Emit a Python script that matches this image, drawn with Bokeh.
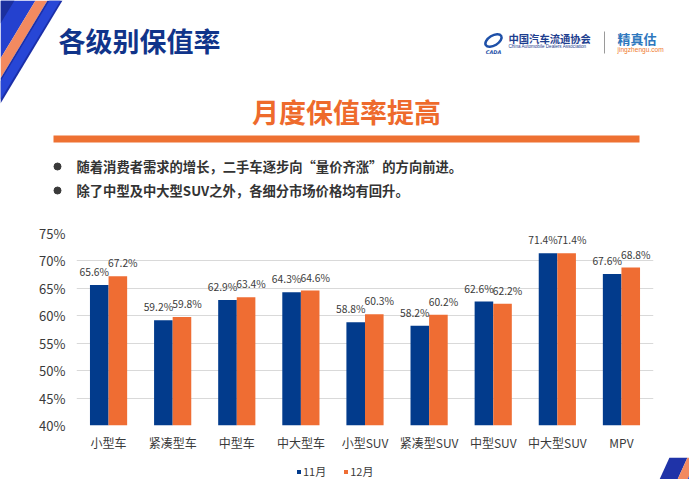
from bokeh.plotting import figure
from bokeh.models import Range1d, FactorRange, Legend, LegendItem, ColumnDataSource
from bokeh.transform import dodge
from bokeh.core.properties import value
from bokeh.embed import file_html
from bokeh.resources import INLINE

# ---------------- data ----------------
categories = ["小型车", "紧凑型车", "中型车", "中大型车", "小型SUV", "紧凑型SUV", "中型SUV", "中大型SUV", "MPV"]
nov_values = [65.6, 59.2, 62.9, 64.3, 58.8, 58.2, 62.6, 71.4, 67.6]
dec_values = [67.2, 59.8, 63.4, 64.6, 60.3, 60.2, 62.2, 71.4, 68.8]
series_names = ["11月", "12月"]
y_ticks = [40, 45, 50, 55, 60, 65, 70, 75]
y_min, y_max = 40, 75

title_text = "各级别保值率"
subtitle_text = "月度保值率提高"
bullet_texts = [
    "随着消费者需求的增长，二手车逐步向“量价齐涨”的方向前进。",
    "除了中型及中大型SUV之外，各细分市场价格均有回升。",
]
org_name_cn = "中国汽车流通协会"
org_name_en = "China Automobile Dealers Association"
brand_cn = "精真估"
brand_url = "jingzhengu.com"

FONT = value("Noto Sans CJK SC")
BLUE = "#023B8C"
ORANGE = "#EF6D33"

W = 689
H1 = 214   # header
H2 = 243   # chart
H3 = 22    # legend strip


def bare(fig):
    fig.grid.visible = False
    fig.outline_line_color = None
    return fig


# ---------------- header (page pixel coordinates) ----------------
h = bare(figure(width=W, height=H1, x_range=Range1d(0, W), y_range=Range1d(H1, 0),
                output_backend="svg", toolbar_location=None, min_border=0,
                x_axis_type=None, y_axis_type=None))

# decorative corner stripes
h.patch(x=[0, 35, 0], y=[0, 0, 58], color="#2441CF", line_width=0)
h.patch(x=[0, 14, 0], y=[0, 0, 23], color="#1B2F9E", line_width=0)
h.patch(x=[35, 47, 0, 0], y=[0, 0, 78, 58], color="#F28A60", line_width=0)
h.patch(x=[47, 62, 0, 0], y=[0, 0, 103, 78], color="#1B2FA8", line_width=0)
h.patch(x=[49, 60, 0, 0], y=[0, 0, 99, 81], color="#2746D6", line_width=0)

h.text(x=[58], y=[40], text=[title_text], text_font=FONT, text_font_size="27px",
       text_font_style="bold", text_color="#10348A", text_baseline="middle", text_align="left")

# logo
h.ellipse(x=[493], y=[40], width=18, height=10, angle=0.55, fill_color=None,
          line_color="#1E50A8", line_width=2.5)
h.text(x=[493], y=[51], text=["CADA"], text_font=value("DejaVu Sans"), text_font_size="5px",
       text_font_style="bold italic", text_color="#1E50A8", text_baseline="middle", text_align="center")
h.text(x=[508], y=[38], text=[org_name_cn], text_font=FONT, text_font_size="10.3px",
       text_font_style="bold", text_color="#1D3E8F", text_baseline="middle", text_align="left")
h.text(x=[508], y=[46], text=[org_name_en], text_font=value("Liberation Sans"), text_font_size="4.6px",
       text_color="#1D3E8F", text_baseline="middle", text_align="left")
h.segment(x0=[604], y0=[31], x1=[604], y1=[53], line_color="#9A9A9A", line_width=1)
h.text(x=[617], y=[38], text=[brand_cn], text_font=FONT, text_font_size="13px",
       text_font_style="bold", text_color="#2F78BE", text_baseline="middle", text_align="left")
h.text(x=[617], y=[48.5], text=[brand_url], text_font=value("Liberation Sans"), text_font_size="6.6px",
       text_color="#EF7A2E", text_baseline="middle", text_align="left")

# subtitle and rule
h.text(x=[346], y=[111], text=[subtitle_text], text_font=FONT, text_font_size="27px",
       text_font_style="bold", text_color="#EE6A2C", text_baseline="middle", text_align="center")
h.quad(left=[53], right=[639], top=[135], bottom=[142], color="#EE7132", line_width=0)

# bullets
bullet_y = [166, 190]
h.scatter(x=[57] * len(bullet_y), y=bullet_y, marker="circle", size=7, color="#3A3A3A")
h.text(x=[76] * len(bullet_y), y=bullet_y, text=bullet_texts, text_font=FONT, text_font_size="13.3px",
       text_font_style="bold", text_color="#333333", text_baseline="middle", text_align="left")

# ---------------- chart ----------------
top_border = 233 - H1
bottom_border = H2 - top_border - (425 - 233)
p = figure(width=W, height=H2, x_range=FactorRange(*categories), y_range=Range1d(y_min, y_max),
           output_backend="svg", toolbar_location=None,
           min_border_left=76, min_border_right=W - 653, min_border_top=top_border,
           min_border_bottom=bottom_border)
p.outline_line_color = None
p.xgrid.visible = False
p.ygrid.grid_line_color = "#D9D9D9"
p.ygrid.grid_line_width = 1

src = ColumnDataSource(dict(
    cat=categories, nov=nov_values, dec=dec_values,
    nov_lbl=[f"{v:.1f}%" for v in nov_values],
    dec_lbl=[f"{v:.1f}%" for v in dec_values],
))
off = 0.145
bw = 0.29
p.vbar(x=dodge("cat", -off, range=p.x_range), top="nov", bottom=y_min, width=bw,
       source=src, fill_color=BLUE, line_color=None)
p.vbar(x=dodge("cat", off, range=p.x_range), top="dec", bottom=y_min, width=bw,
       source=src, fill_color=ORANGE, line_color=None)
for col, lbl, sign in (("nov", "nov_lbl", -1), ("dec", "dec_lbl", 1)):
    p.text(x=dodge("cat", sign * off, range=p.x_range), y=col, text=lbl, source=src,
           x_offset=sign * 5, y_offset=-6, text_baseline="bottom", text_align="center",
           text_font=FONT, text_font_size="10.3px", text_color="#3A3A3A")

p.yaxis.ticker = y_ticks
p.yaxis.major_label_overrides = {t: f"{t}%" for t in y_ticks}
for ax in (p.xaxis[0], p.yaxis[0]):
    ax.axis_line_color = None
    ax.major_tick_line_color = None
    ax.minor_tick_line_color = None
    ax.major_tick_out = 0
    ax.major_tick_in = 0
    ax.major_label_text_font = "Noto Sans CJK SC"
    ax.major_label_text_color = "#3A3A3A"
p.yaxis.major_label_text_font_size = "13px"
p.yaxis.major_label_standoff = 11
p.xaxis.major_label_text_font_size = "12px"
p.xaxis.major_label_standoff = 8

# ---------------- legend strip (page pixel x, y from strip bottom) ----------------
lg = bare(figure(width=W, height=H3, x_range=Range1d(0, W), y_range=Range1d(H1 + H2 + H3, H1 + H2),
                 output_backend="svg", toolbar_location=None, min_border=0,
                 x_axis_type=None, y_axis_type=None))
# bottom-right decorative stripes (lower part)
lg.patch(x=[659, 677, 687, 669], y=[479, 479, 457, 457], color="#1F33A8", line_width=0)
lg.patch(x=[677, 687, 697, 687], y=[479, 479, 457, 457], color="#F28A60", line_width=0)
lg.patch(x=[687, 700, 700, 697], y=[479, 479, 457, 457], color="#2548D8", line_width=0)

# zero-size proxy renderers that carry the legend key styles
k1 = lg.vbar(x=[0], top=[0], bottom=[0], width=0, fill_color=BLUE, line_color=None)
k2 = lg.vbar(x=[0], top=[0], bottom=[0], width=0, fill_color=ORANGE, line_color=None)
legend = Legend(items=[LegendItem(label=series_names[0], renderers=[k1]),
                       LegendItem(label=series_names[1], renderers=[k2])],
                location=(296, 0), orientation="horizontal",
                background_fill_alpha=0, border_line_color=None,
                padding=0, margin=0, spacing=17, label_standoff=2,
                glyph_width=5, glyph_height=5, label_height=12,
                label_text_font="Noto Sans CJK SC", label_text_font_size="11px",
                label_text_color="#3A3A3A")
lg.add_layout(legend)

open("out.html", "w").write(file_html([h, p, lg], INLINE))
